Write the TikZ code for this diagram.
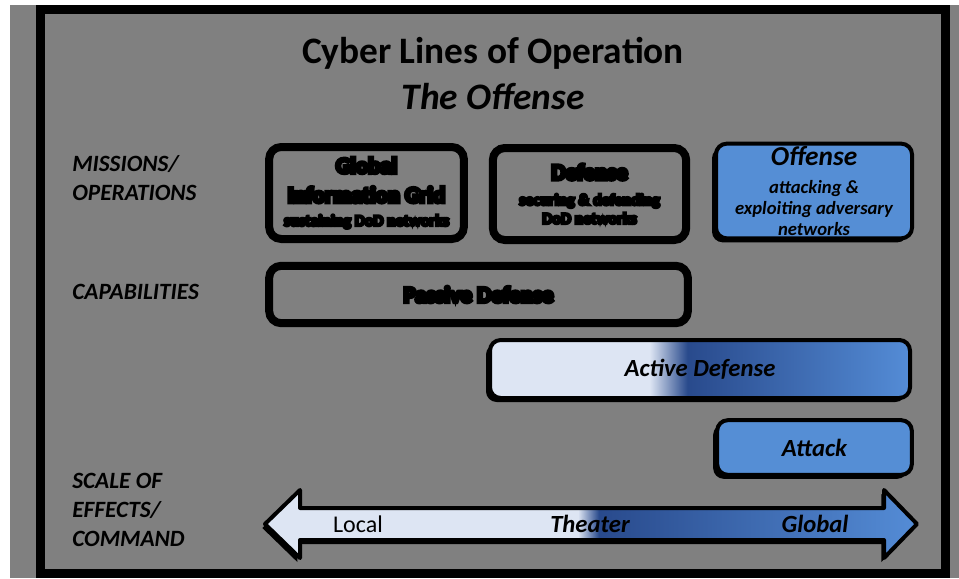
\documentclass[tikz,border=0pt]{standalone}
\usepackage{fontspec}
\setmainfont{Carlito}
\newfontfamily\blobfont[FakeBold=16]{Carlito}
\usetikzlibrary{shadows}
\definecolor{panel}{RGB}{128,128,128}
\definecolor{offb}{RGB}{85,142,213}
\pgfdeclarehorizontalshading{actshade}{100bp}{rgb(0bp)=(.867,.898,.953); rgb(44bp)=(.867,.898,.953); rgb(48.5bp)=(.16,.29,.55); rgb(75bp)=(.33,.55,.84); rgb(100bp)=(.33,.55,.84)}
\pgfdeclarehorizontalshading{scaleshade}{100bp}{rgb(0bp)=(.867,.898,.953); rgb(49bp)=(.867,.898,.953); rgb(50.6bp)=(.16,.29,.55); rgb(75bp)=(.33,.55,.84); rgb(100bp)=(.33,.55,.84)}
\begin{document}
\begin{tikzpicture}[x=.75pt,y=-.75pt,
 gbox/.style={draw=black,line width=6pt,rounded corners=9pt,inner sep=0pt,align=center},
 bbox/.style={draw=black,line width=3pt,rounded corners=8pt,inner sep=0pt,align=center,
  drop shadow={shadow xshift=-3pt,shadow yshift=-3pt,opacity=1,fill=black}},
 lbl/.style={anchor=west,inner sep=0pt,align=left,font=\fontsize{17.5}{21.5}\selectfont\bfseries\itshape},
 bi/.style={font=\fontsize{18.5}{21}\selectfont\bfseries\itshape}]
\useasboundingbox (0,0) rectangle (959,578);
\fill[panel] (10,5) rectangle (959,578);
\draw[line width=7pt] (40.5,9.5) rectangle (945.5,573.5);
% heading
\node[font=\fontsize{28}{32}\selectfont\bfseries] (title) at (493,53) {Cyber Lines of Operation};
\node[font=\fontsize{28}{32}\selectfont\bfseries\itshape] (sub) at (493,97) {The Offense};
% rows
\node[lbl] (mis) at (72,178) {MISSIONS/\\OPERATIONS};
\node[lbl] (cap) at (72,292) {CAPABILITIES};
\node[lbl] (sca) at (72,510) {SCALE OF\\EFFECTS/\\COMMAND};
% missions
\node[gbox,minimum width=146pt,minimum height=69pt,font=\blobfont\bfseries\fontsize{17}{22}\selectfont] (gig) at (366.5,193)
 {Global\\Information Grid\\[-4.5pt]{\fontsize{12}{13}\selectfont sustaining DoD networks}};
\node[gbox,minimum width=145pt,minimum height=69pt,font=\blobfont\bfseries\fontsize{17}{22}\selectfont] (def) at (589.5,194)
 {Defense\\[-3pt]{\fontsize{12}{13}\selectfont securing \& defending}\\[-8pt]{\fontsize{12}{13}\selectfont DoD networks}};
\node[bbox,fill=offb,minimum width=147pt,minimum height=71pt,font=\fontsize{14}{15.75}\selectfont\bfseries\itshape] (off) at (814,191)
 {{\fontsize{20.5}{22}\selectfont Offense}\\[5pt]attacking \&\\exploiting adversary\\networks};
% capabilities
\node[gbox,minimum width=314pt,minimum height=43pt,font=\blobfont\bfseries\fontsize{17}{22}\selectfont] (pas) at (478.5,294.5) {Passive Defense};
\node[bbox,shade,shading=actshade,minimum width=315pt,minimum height=43.5pt,bi] (act) at (700,369) {Active Defense};
\node[bbox,fill=offb,minimum width=146pt,minimum height=41pt,bi] (att) at (814.5,447.5) {Attack};
% scale
\path[shade,shading=scaleshade,draw=black,line width=3pt,line join=round,
 drop shadow={shadow xshift=-2pt,shadow yshift=-3pt,opacity=1,fill=black}]
 (265,524) -- (300,490) -- (300,508) -- (884,508) -- (884,490) -- (917,524)
 -- (884,558) -- (884,540) -- (300,540) -- (300,558) -- cycle;
\node[font=\fontsize{18}{21}\selectfont] (loc) at (358,524) {Local};
\node[bi] (the) at (590,524) {Theater};
\node[bi] (glo) at (815,524) {Global};
\end{tikzpicture}
\end{document}
